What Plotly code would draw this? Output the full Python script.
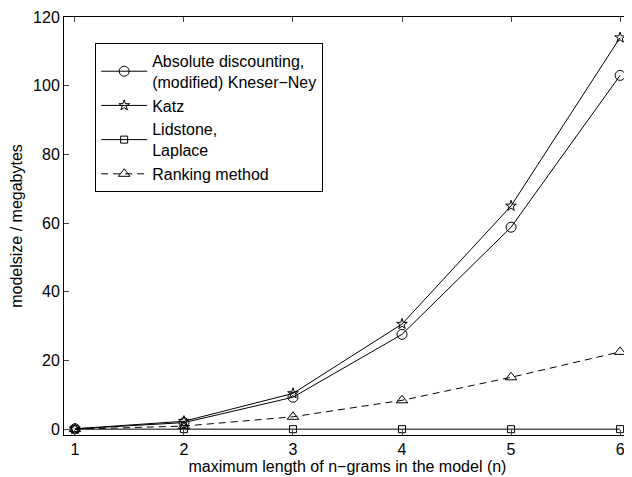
import plotly.graph_objects as go

n_values = [1, 2, 3, 4, 5, 6]
absolute_kn = [0.1, 1.9, 9.3, 27.6, 58.8, 103.0]
katz = [0.1, 2.3, 10.4, 30.6, 65.0, 114.0]
lidstone = [0.0, 0.0, 0.0, 0.0, 0.0, 0.0]
ranking = [0.0, 0.9, 3.6, 8.4, 15.1, 22.5]

series_names = [
    "Absolute discounting,<br>(modified) Kneser\u2212Ney",
    "Katz",
    "Lidstone,<br>Laplace",
    "Ranking method",
]
x_ticks = [1, 2, 3, 4, 5, 6]
y_ticks = [0, 20, 40, 60, 80, 100, 120]

FONT = "Liberation Sans, Arial, Helvetica, sans-serif"

fig = go.Figure()
fig.add_trace(go.Scatter(
    x=n_values, y=absolute_kn, name=series_names[0], mode="lines+markers",
    line=dict(color="black", width=1),
    marker=dict(symbol="circle-open", size=10, color="black", line=dict(width=1)),
))
fig.add_trace(go.Scatter(
    x=n_values, y=katz, name=series_names[1], mode="lines+markers",
    line=dict(color="black", width=1),
    marker=dict(symbol="star-open", size=8, color="black", line=dict(width=1)),
))
fig.add_trace(go.Scatter(
    x=n_values, y=lidstone, name=series_names[2], mode="lines+markers",
    line=dict(color="black", width=1),
    marker=dict(symbol="square-open", size=7, color="black", line=dict(width=1)),
))
fig.add_trace(go.Scatter(
    x=n_values, y=ranking, name=series_names[3], mode="lines+markers",
    line=dict(color="black", width=1, dash="7px,5px"),
    marker=dict(symbol="triangle-up-open", size=10, color="black", line=dict(width=1)),
))

# The page body adds an 8px margin, so the figure is sized to fit the window.
fig.update_layout(
    width=624, height=469,
    margin=dict(l=56, r=1, t=9, b=42),
    paper_bgcolor="white", plot_bgcolor="white",
    font=dict(family=FONT, size=16, color="black"),
    showlegend=True,
    legend=dict(
        x=0.055, y=0.938, xanchor="left", yanchor="top",
        bordercolor="black", borderwidth=1, bgcolor="white",
        font=dict(size=16, family=FONT), tracegroupgap=3,
        itemwidth=46,
    ),
    xaxis=dict(
        range=[0.9, 6.1], tickvals=x_ticks, ticks="inside", ticklen=5,
        showline=True, linecolor="black", linewidth=1, mirror="ticks",
        showgrid=False, zeroline=False, automargin=False,
        tickfont=dict(size=16),
        title=dict(text="maximum length of n\u2212grams in the model (n)",
                   font=dict(size=16), standoff=0),
    ),
    yaxis=dict(
        range=[-1.7, 120], tickvals=y_ticks, ticks="inside", ticklen=5,
        showline=True, linecolor="black", linewidth=1, mirror="ticks",
        showgrid=False, zeroline=False, automargin=False,
        tickfont=dict(size=16),
        title=dict(text="modelsize / megabytes", font=dict(size=16), standoff=6),
    ),
)

fig.write_html("out.html")
